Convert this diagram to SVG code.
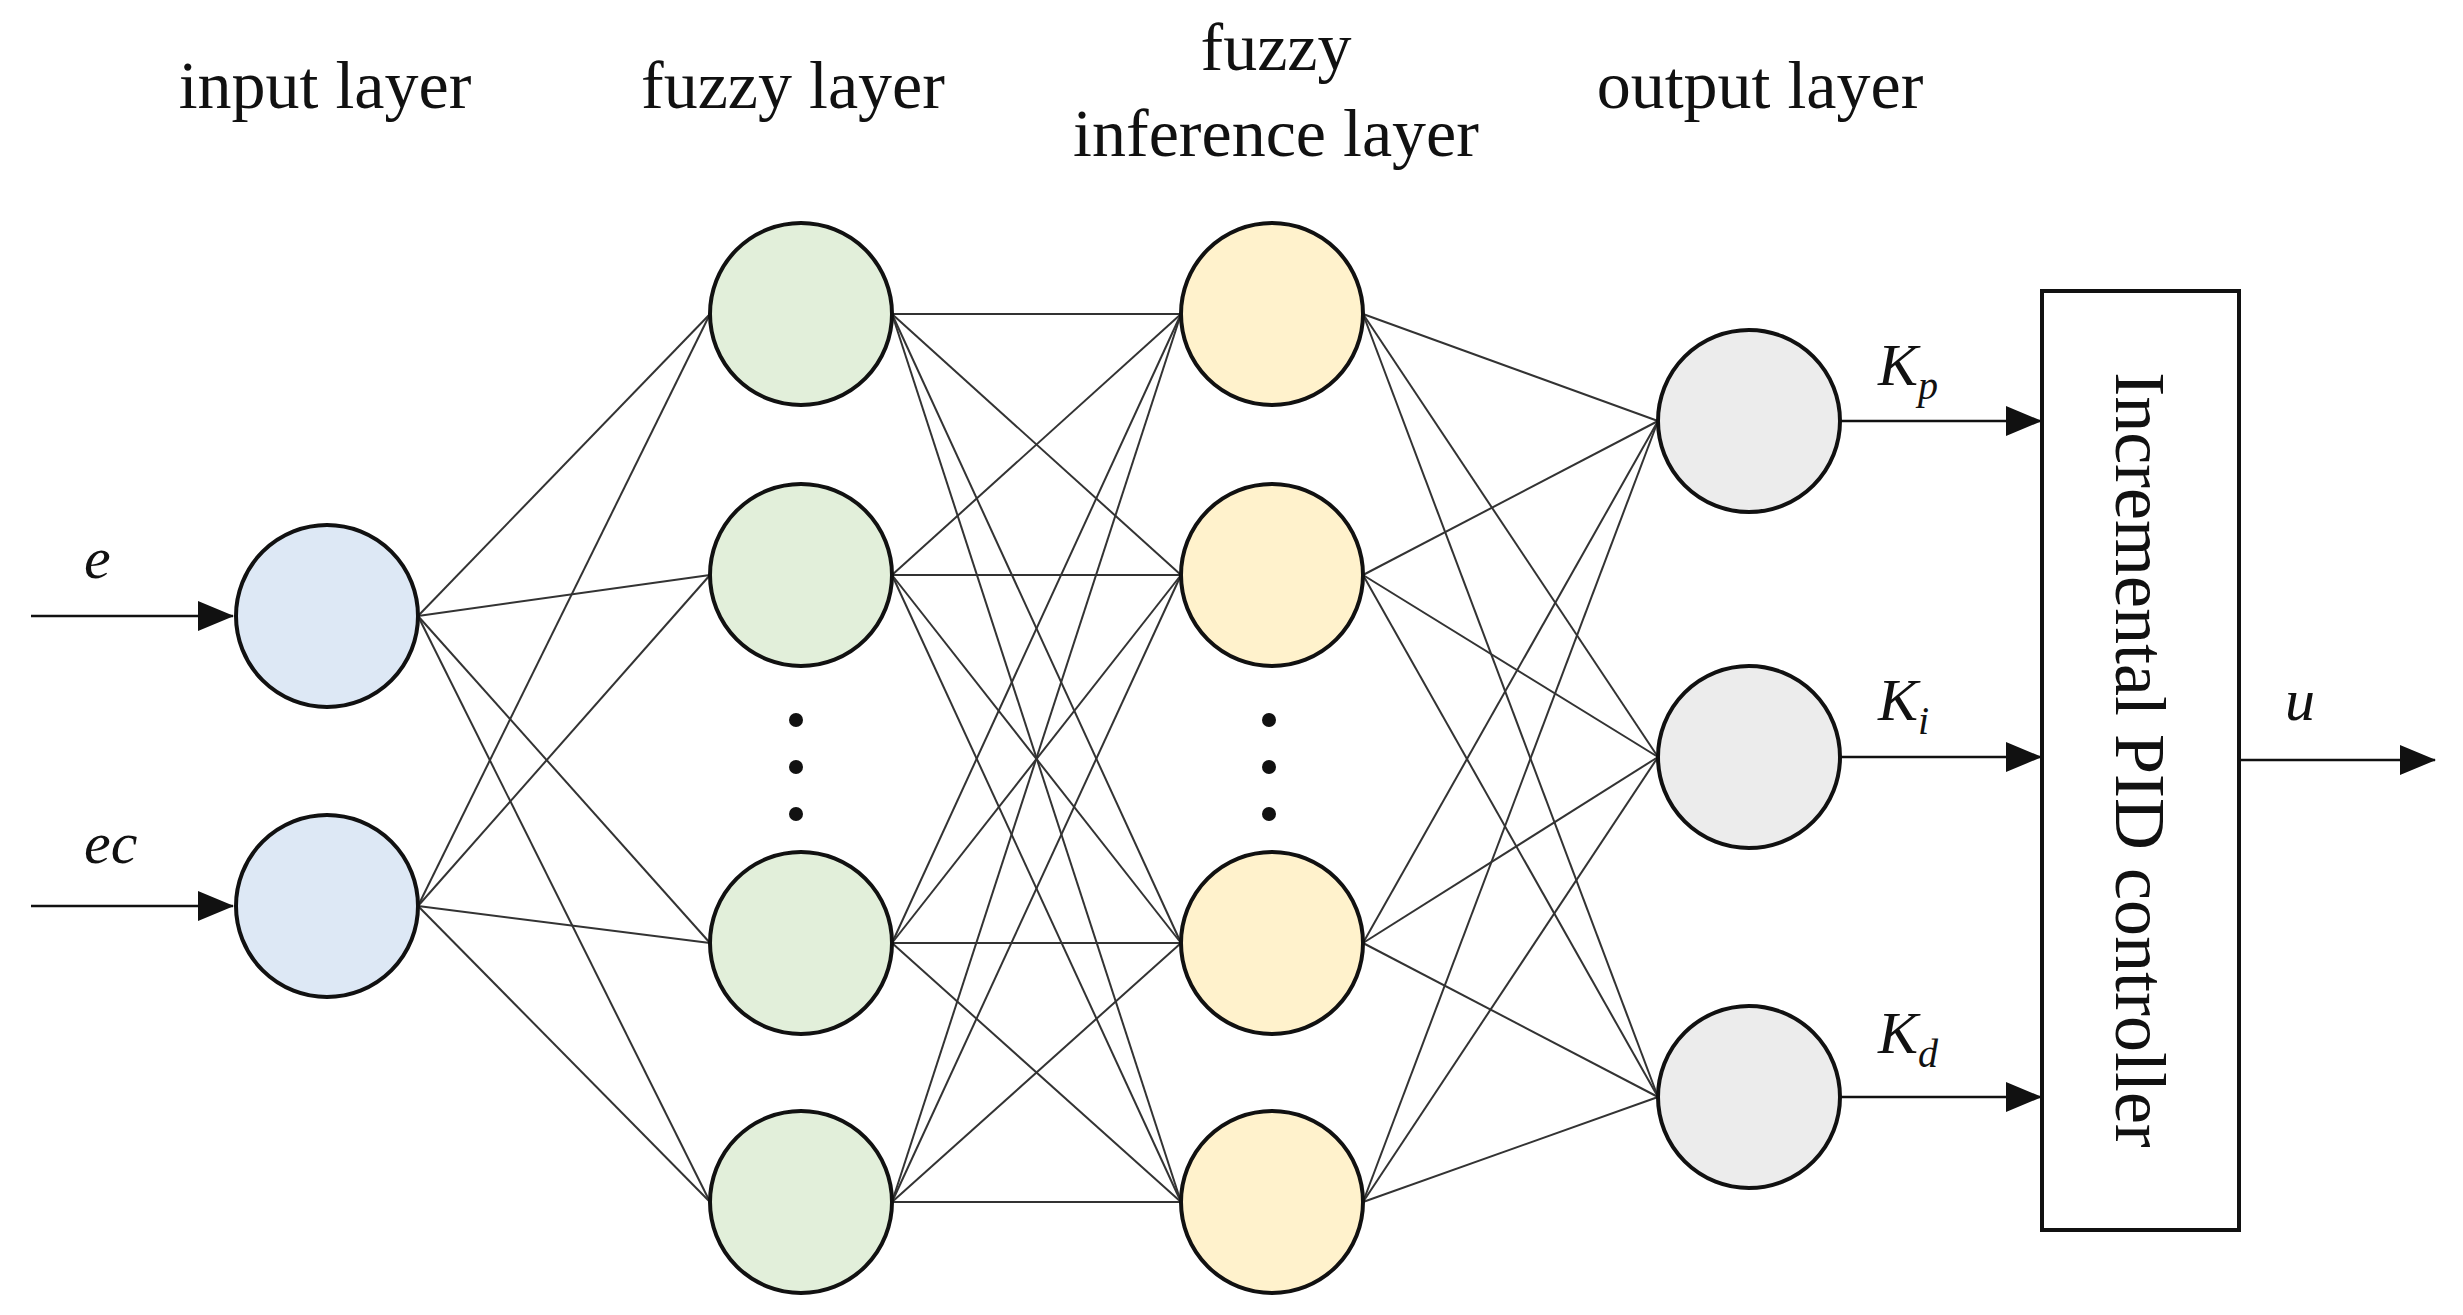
<svg xmlns="http://www.w3.org/2000/svg" width="2463" height="1315" viewBox="0 0 2463 1315">
<style>
.t{font-family:"Liberation Serif",serif;font-size:68px;fill:#111;text-anchor:middle}
.i{font-family:"Liberation Serif",serif;font-style:italic;font-size:60px;fill:#111}
.s{font-size:40px}
.n{stroke:#111;stroke-width:4}
.c line{stroke:#333;stroke-width:2}
</style>
<rect width="2463" height="1315" fill="#fff"/>
<text class="t" x="325" y="108">input layer</text>
<text class="t" x="793" y="108">fuzzy  layer</text>
<text class="t" x="1276" y="70">fuzzy</text>
<text class="t" x="1276" y="156">inference layer</text>
<text class="t" x="1760" y="108">output layer</text>
<g class="c" id="connectors">
<line x1="418" y1="616" x2="710" y2="314"/><line x1="418" y1="616" x2="710" y2="575"/><line x1="418" y1="616" x2="710" y2="943"/><line x1="418" y1="616" x2="710" y2="1202"/>
<line x1="418" y1="906" x2="710" y2="314"/><line x1="418" y1="906" x2="710" y2="575"/><line x1="418" y1="906" x2="710" y2="943"/><line x1="418" y1="906" x2="710" y2="1202"/>
<line x1="892" y1="314" x2="1181" y2="314"/><line x1="892" y1="314" x2="1181" y2="575"/><line x1="892" y1="314" x2="1181" y2="943"/><line x1="892" y1="314" x2="1181" y2="1202"/>
<line x1="892" y1="575" x2="1181" y2="314"/><line x1="892" y1="575" x2="1181" y2="575"/><line x1="892" y1="575" x2="1181" y2="943"/><line x1="892" y1="575" x2="1181" y2="1202"/>
<line x1="892" y1="943" x2="1181" y2="314"/><line x1="892" y1="943" x2="1181" y2="575"/><line x1="892" y1="943" x2="1181" y2="943"/><line x1="892" y1="943" x2="1181" y2="1202"/>
<line x1="892" y1="1202" x2="1181" y2="314"/><line x1="892" y1="1202" x2="1181" y2="575"/><line x1="892" y1="1202" x2="1181" y2="943"/><line x1="892" y1="1202" x2="1181" y2="1202"/>
<line x1="1363" y1="314" x2="1658" y2="421"/><line x1="1363" y1="314" x2="1658" y2="757"/><line x1="1363" y1="314" x2="1658" y2="1097"/>
<line x1="1363" y1="575" x2="1658" y2="421"/><line x1="1363" y1="575" x2="1658" y2="757"/><line x1="1363" y1="575" x2="1658" y2="1097"/>
<line x1="1363" y1="943" x2="1658" y2="421"/><line x1="1363" y1="943" x2="1658" y2="757"/><line x1="1363" y1="943" x2="1658" y2="1097"/>
<line x1="1363" y1="1202" x2="1658" y2="421"/><line x1="1363" y1="1202" x2="1658" y2="757"/><line x1="1363" y1="1202" x2="1658" y2="1097"/>
<path d="M31,616 H233 M31,906 H233 M1840,421 H2042 M1840,757 H2042 M1840,1097 H2042 M2239,760 H2435" stroke="#111" stroke-width="2.5" fill="none"/>
<path d="M198,601 L234,616 L198,631Z M198,891 L234,906 L198,921Z M2006,406 L2042,421 L2006,436Z M2006,742 L2042,757 L2006,772Z M2006,1082 L2042,1097 L2006,1112Z M2400,745 L2436,760 L2400,775Z" fill="#111"/>
</g>
<g id="in1"><circle class="n" cx="327" cy="616" r="91" fill="#dde8f5"/></g>
<g id="in2"><circle class="n" cx="327" cy="906" r="91" fill="#dde8f5"/></g>
<g id="f1"><circle class="n" cx="801" cy="314" r="91" fill="#e2efda"/></g>
<g id="f2"><circle class="n" cx="801" cy="575" r="91" fill="#e2efda"/></g>
<g id="f3"><circle class="n" cx="801" cy="943" r="91" fill="#e2efda"/></g>
<g id="f4"><circle class="n" cx="801" cy="1202" r="91" fill="#e2efda"/></g>
<g id="r1"><circle class="n" cx="1272" cy="314" r="91" fill="#fff2cc"/></g>
<g id="r2"><circle class="n" cx="1272" cy="575" r="91" fill="#fff2cc"/></g>
<g id="r3"><circle class="n" cx="1272" cy="943" r="91" fill="#fff2cc"/></g>
<g id="r4"><circle class="n" cx="1272" cy="1202" r="91" fill="#fff2cc"/></g>
<g id="o1"><circle class="n" cx="1749" cy="421" r="91" fill="#ececec"/></g>
<g id="o2"><circle class="n" cx="1749" cy="757" r="91" fill="#ececec"/></g>
<g id="o3"><circle class="n" cx="1749" cy="1097" r="91" fill="#ececec"/></g>
<g id="dots" fill="#111"><circle cx="796" cy="720" r="7"/><circle cx="796" cy="767" r="7"/><circle cx="796" cy="814" r="7"/><circle cx="1269" cy="720" r="7"/><circle cx="1269" cy="767" r="7"/><circle cx="1269" cy="814" r="7"/></g>
<g id="pid"><rect x="2042" y="291" width="197" height="939" fill="#fff" stroke="#111" stroke-width="4"/>
<text class="t" transform="translate(2140,760) rotate(90)" y="24" style="font-size:72px">Incremental PID controller</text></g>
<text class="i" x="84" y="578">e</text>
<text class="i" x="84" y="863">ec</text>
<text class="i" x="1878" y="385">K<tspan class="s" dy="14">p</tspan></text>
<text class="i" x="1878" y="720">K<tspan class="s" dy="14">i</tspan></text>
<text class="i" x="1878" y="1053">K<tspan class="s" dy="14">d</tspan></text>
<text class="i" x="2285" y="720">u</text>
</svg>
